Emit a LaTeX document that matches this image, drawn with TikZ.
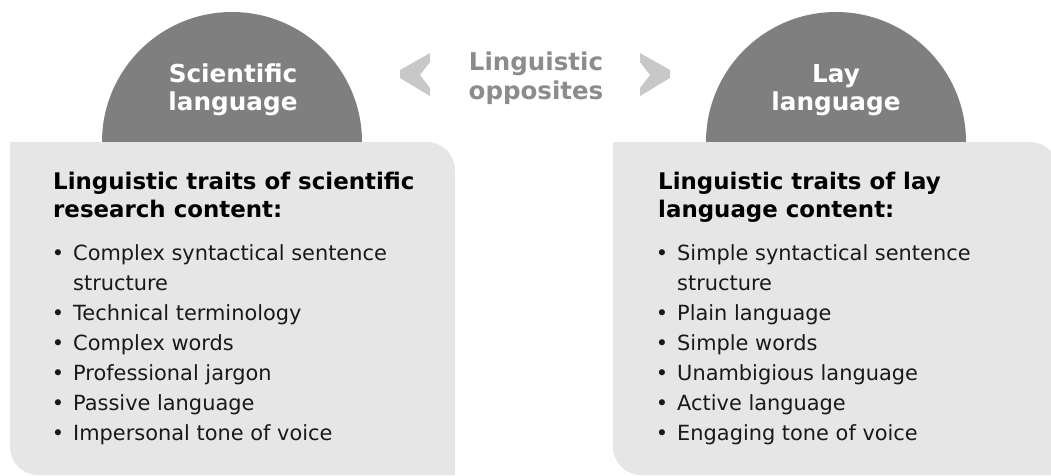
\documentclass[tikz,border=0pt]{standalone}
\usepackage{fontspec}
\setmainfont{DejaVu Sans}
\definecolor{boxgray}{HTML}{E6E6E6}
\definecolor{semigray}{HTML}{7F7F7F}
\definecolor{chevgray}{HTML}{C8C8C8}
\definecolor{oppgray}{HTML}{8C8C8C}
\tikzset{
  titletext/.style={anchor=base, inner sep=0pt, text=white, font=\bfseries\fontsize{24.7}{24.7}\selectfont},
  opptext/.style={anchor=base, inner sep=0pt, text=oppgray, font=\bfseries\fontsize{24.5}{24.5}\selectfont},
  headtext/.style={anchor=base west, inner sep=0pt, text=black, font=\bfseries\fontsize{22.9}{22.9}\selectfont},
  itemtext/.style={anchor=base west, inner sep=0pt, text=black!90, font=\fontsize{20.9}{20.9}\selectfont},
  bullettext/.style={anchor=base, inner sep=0pt, text=black!90, font=\fontsize{20.9}{20.9}\selectfont},
}
\begin{document}
\begin{tikzpicture}[x=1pt,y=-1pt]
\useasboundingbox (0,0) rectangle (1051,475);
% semicircles
\fill[semigray] (102,142) arc[start angle=180,end angle=360,radius=130] -- cycle;
\fill[semigray] (706,142) arc[start angle=180,end angle=360,radius=130] -- cycle;
% boxes
\fill[boxgray] (10,142) -- (427,142) arc[start angle=270,end angle=360,radius=28]
  -- (455,475) -- (38,475) arc[start angle=90,end angle=180,radius=28] -- cycle;
\fill[boxgray] (613,142) -- (1030,142) arc[start angle=270,end angle=360,radius=28]
  -- (1058,475) -- (641,475) arc[start angle=90,end angle=180,radius=28] -- cycle;
% chevrons
\fill[chevgray] (430,53) -- (400,70) -- (400,78) -- (430,96) -- (430,88) -- (420,75) -- (430,62) -- cycle;
\fill[chevgray] (640,53) -- (670,70) -- (670,78) -- (640,96) -- (640,88) -- (650,75) -- (640,62) -- cycle;
% titles
\node[titletext] (t1a) at (233,82) {Scientific};
\node[titletext] (t1b) at (233,110) {language};
\node[titletext] (t2a) at (836,82) {Lay};
\node[titletext] (t2b) at (836,110) {language};
\node[opptext] (oa) at (536,70) {Linguistic};
\node[opptext] (ob) at (536,99) {opposites};
% left box
\node[headtext] (h1a) at (53,189) {Linguistic traits of scientific};
\node[headtext] (h1b) at (53,217) {research content:};
\foreach \y/\t [count=\i] in {260/Complex syntactical sentence, 320/Technical terminology, 350/Complex words, 380/Professional jargon, 410/Passive language, 440/Impersonal tone of voice}{
  \node[bullettext] (lb\i) at (58,\y) {•};
  \node[itemtext] (li\i) at (73,\y) {\t};
}
\node[itemtext] (li1b) at (73,290) {structure};
% right box
\node[headtext] (h2a) at (658,189) {Linguistic traits of lay};
\node[headtext] (h2b) at (658,217) {language content:};
\foreach \y/\t [count=\i] in {260/Simple syntactical sentence, 320/Plain language, 350/Simple words, 380/Unambigious language, 410/Active language, 440/Engaging tone of voice}{
  \node[bullettext] (rb\i) at (662,\y) {•};
  \node[itemtext] (ri\i) at (677,\y) {\t};
}
\node[itemtext] (ri1b) at (677,290) {structure};
\end{tikzpicture}
\end{document}
